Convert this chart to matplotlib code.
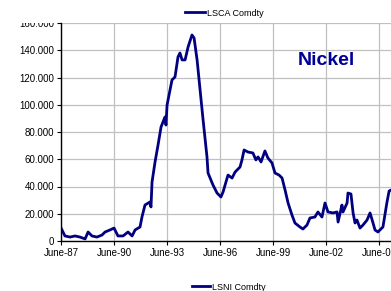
import matplotlib
matplotlib.use("Agg")
import matplotlib.pyplot as plt
from matplotlib.lines import Line2D
from matplotlib.patches import Rectangle

plt.rcParams['font.family'] = ['Liberation Sans', 'DejaVu Sans']

# LME nickel price, fractional years
years = [1987.42, 1987.64, 1987.93, 1988.21, 1988.49, 1988.78, 1988.95, 1989.17,
         1989.45, 1989.74, 1989.91, 1990.19, 1990.42, 1990.64, 1990.93, 1991.21,
         1991.44, 1991.61, 1991.89, 1992.00, 1992.17, 1992.45, 1992.51, 1992.57,
         1992.74, 1992.91, 1993.08, 1993.30, 1993.36, 1993.42, 1993.70, 1993.87,
         1994.04, 1994.15, 1994.27, 1994.44, 1994.61, 1994.83, 1994.95, 1995.12,
         1995.29, 1995.46, 1995.68, 1995.74, 1996.02, 1996.25, 1996.47, 1996.59,
         1996.87, 1997.10, 1997.27, 1997.55, 1997.66, 1997.78, 1998.00, 1998.28,
         1998.45, 1998.57, 1998.74, 1998.96, 1999.13, 1999.36, 1999.53, 1999.76,
         1999.93, 2000.10, 2000.27, 2000.49, 2000.66, 2000.94, 2001.11, 2001.34,
         2001.51, 2001.79, 2001.96, 2002.19, 2002.36, 2002.53, 2002.81, 2003.04,
         2003.10, 2003.32, 2003.38, 2003.61, 2003.66, 2003.83, 2003.95, 2004.06,
         2004.17, 2004.34, 2004.51, 2004.74, 2004.91, 2005.08, 2005.19, 2005.36,
         2005.47, 2005.64, 2005.87, 2005.99, 2006.10]
prices = [9500, 3700, 2900, 3700, 2900, 1500, 6600, 3700,
          2900, 4400, 6600, 8100, 9500, 3700, 3700, 6600,
          3700, 8100, 10300, 17600, 26400, 28600, 25000, 43300,
          58000, 70500, 83700, 91000, 85100, 99800, 118200, 120400,
          135100, 138000, 132900, 132900, 142400, 151200, 149000, 132900,
          110800, 88800, 61700, 49900, 41100, 35200, 32300, 36000,
          48400, 46200, 50600, 54300, 59500, 66800, 65300, 64600,
          59500, 61700, 58000, 66100, 60900, 57300, 49900, 48400,
          46200, 37400, 27900, 19100, 13200, 10300, 8800, 11700,
          16900, 17600, 21300, 17600, 27900, 21300, 20600, 21300,
          13900, 26400, 21300, 27900, 35200, 34500, 20600, 13200,
          15400, 9500, 11700, 15400, 20600, 13200, 8100, 6600,
          8100, 10300, 28600, 36700, 37400]

tick_years = [1987.4167, 1990.4167, 1993.4167, 1996.4167, 1999.4167, 2002.4167, 2005.4167]
tick_labels = ['June-87', 'June-90', 'June-93', 'June-96', 'June-99', 'June-02', 'June-05']
y_ticks = [0, 20000, 40000, 60000, 80000, 100000, 120000, 140000, 160000]
y_labels = ['0', '20.000', '40.000', '60.000', '80.000', '100.000', '120.000', '140.000', '160.000']

fig = plt.figure(figsize=(3.91, 2.91), dpi=100)
ax = fig.add_axes([61 / 391, 50 / 291, 330 / 391, 218 / 291])

line, = ax.plot(years, prices, color='#000080', lw=2.0, label='LSCA Comdty')

ax.set_xlim(1987.4167, 1987.4167 + 330 * 3 / 53)
ax.set_ylim(0, 160000)
ax.set_xticks(tick_years)
ax.set_xticklabels(tick_labels)
ax.set_yticks(y_ticks)
ax.set_yticklabels(y_labels)
ax.tick_params(labelsize=7, length=3, width=0.8, color='black', pad=2)
ax.grid(True, color='#c0c0c0', lw=0.9)
ax.set_axisbelow(True)
for s in ['top', 'right']:
    ax.spines[s].set_visible(False)
for s in ['left', 'bottom']:
    ax.spines[s].set_linewidth(1.0)

# the top tick label is cut off in the original
fig.patches.append(Rectangle((0, (291 - 22.5) / 291), 58 / 391, 22.5 / 291,
                             transform=fig.transFigure, facecolor='white',
                             edgecolor='none', zorder=10))

ax.text(0.803, 0.83, 'Nickel', transform=ax.transAxes, fontsize=14,
        fontweight='bold', color='#000099', ha='center', va='center')

fig.legend(handles=[line], loc='center', bbox_to_anchor=(224 / 391, 1 - 13 / 291),
           frameon=False, fontsize=6.5, handlelength=2.2, handletextpad=0.2)
other = Line2D([], [], color='#000080', lw=2.0, label='LSNI Comdty')
fig.legend(handles=[other], loc='center', bbox_to_anchor=(229 / 391, 1 - 287 / 291),
           frameon=False, fontsize=6.5, handlelength=2.0, handletextpad=0.2)

fig.savefig('out.png', dpi=100)
